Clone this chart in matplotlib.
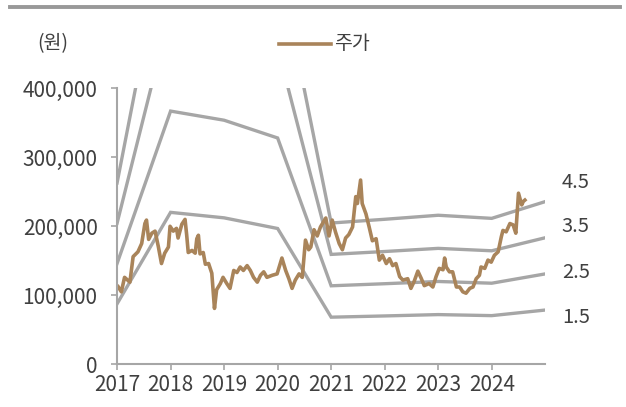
import numpy as np
import matplotlib
matplotlib.use("Agg")
from matplotlib import pyplot as plt

plt.rcParams['font.family'] = ['Noto Sans CJK KR', 'DejaVu Sans']
plt.rcParams['font.weight'] = 'light'

# Band base values (per year) and multiples
band_years = [2017, 2018, 2019, 2020, 2021, 2022, 2023, 2024, 2025]
band_base = [58400, 146800, 141500, 131200, 45500, 46700, 48000, 47000, 52400]
multiples = [1.5, 2.5, 3.5, 4.5]
multiple_labels = ['1.5', '2.5', '3.5', '4.5']
label_y = [67500, 133000, 199000, 263000]

# Stock price
price_dates = [
    2017.02, 2017.08, 2017.14, 2017.24, 2017.30, 2017.39, 2017.46, 2017.52, 2017.55, 2017.59,
    2017.65, 2017.71, 2017.77, 2017.83, 2017.89, 2017.96, 2017.99, 2018.05, 2018.11, 2018.14,
    2018.21, 2018.27, 2018.30, 2018.33, 2018.40, 2018.46, 2018.49, 2018.52, 2018.55, 2018.61,
    2018.65, 2018.71, 2018.77, 2018.82, 2018.86, 2018.93, 2018.98, 2019.05, 2019.11, 2019.18,
    2019.24, 2019.30, 2019.36, 2019.43, 2019.49, 2019.55, 2019.62, 2019.68, 2019.74, 2019.80,
    2019.90, 2019.99, 2020.08, 2020.15, 2020.21, 2020.27, 2020.33, 2020.40, 2020.46, 2020.52,
    2020.58, 2020.62, 2020.68, 2020.74, 2020.80, 2020.90, 2020.96, 2021.02, 2021.08, 2021.15,
    2021.21, 2021.27, 2021.33, 2021.40, 2021.46, 2021.49, 2021.55, 2021.58, 2021.65, 2021.71,
    2021.77, 2021.84, 2021.90, 2021.96, 2022.03, 2022.09, 2022.15, 2022.21, 2022.28, 2022.34,
    2022.43, 2022.49, 2022.55, 2022.62, 2022.68, 2022.74, 2022.83, 2022.90, 2022.96, 2023.02,
    2023.09, 2023.12, 2023.15, 2023.21, 2023.27, 2023.34, 2023.40, 2023.46, 2023.52, 2023.59,
    2023.65, 2023.71, 2023.77, 2023.80, 2023.87, 2023.93, 2023.99, 2024.05, 2024.12, 2024.18,
    2024.21, 2024.27, 2024.34, 2024.40, 2024.45, 2024.50, 2024.56, 2024.59, 2024.62,
]
price = [
    112500, 105000, 126000, 119000, 156000, 163000, 175000, 204000, 209000, 181000,
    190000, 193000, 171000, 146000, 161000, 170000, 200000, 193000, 197000, 183000,
    203000, 210000, 188000, 162000, 165000, 161000, 182000, 187000, 160000, 162000,
    145000, 146000, 132000, 81000, 108000, 117000, 126000, 117000, 110000, 136000,
    133000, 141000, 136000, 143000, 136000, 126000, 119000, 129000, 134000, 126000,
    129000, 131000, 154000, 136000, 124000, 110000, 122000, 131000, 126000, 180000,
    166000, 170000, 195000, 186000, 199000, 212000, 186000, 209000, 192000, 175000,
    166000, 183000, 188000, 199000, 243000, 233000, 267000, 233000, 218000, 199000,
    179000, 182000, 151000, 158000, 146000, 153000, 143000, 146000, 127000, 122000,
    124000, 110000, 120000, 135000, 125000, 114000, 117000, 112000, 127000, 139000,
    137000, 154000, 141000, 134000, 134000, 112000, 112000, 105000, 103000, 110000,
    112000, 124000, 129000, 141000, 139000, 151000, 148000, 158000, 163000, 185000,
    194000, 192000, 204000, 202000, 190000, 248000, 231000, 236000, 238000,
]

gray = '#A6A6A6'
brown = '#A9845A'
text_c = '#404040'

fig = plt.figure(figsize=(6.26, 4.07), dpi=100)
ax = fig.add_axes([0.187, 0.105, 0.684, 0.678])

base = np.array(band_base)
for m in multiples:
    ax.plot(band_years, base * m, color=gray, lw=2.4, solid_joinstyle='miter', zorder=1)
ax.plot(price_dates, price, color=brown, lw=2.6, zorder=2, label='주가')

for lab, yv in zip(multiple_labels, label_y):
    ax.text(2025.31, yv, lab, fontsize=14.5, color=text_c, va='center', ha='left', clip_on=False)

ax.set_xlim(2017, 2025)
ax.set_ylim(0, 400000)
ax.set_xticks(range(2017, 2025))
ax.set_yticks(range(0, 400001, 100000))
ax.yaxis.set_major_formatter(matplotlib.ticker.FuncFormatter(lambda v, p: f'{int(v):,}'))
ax.tick_params(axis='both', colors=gray, labelcolor=text_c, labelsize=15, length=4, width=1.2)
ax.tick_params(axis='x', pad=3)
ax.tick_params(axis='y', pad=10)
for s in ['top', 'right']:
    ax.spines[s].set_visible(False)
for s in ['left', 'bottom']:
    ax.spines[s].set_color(gray)
    ax.spines[s].set_linewidth(1.5)

# header
fig.add_artist(plt.Line2D([10 / 626, 620 / 626], [1 - 6.5 / 407] * 2, color='#999999', lw=2.8))
fig.text(37 / 626, 1 - 44 / 407, '(원)', fontsize=14, color=text_c, va='center', ha='left')
fig.add_artist(plt.Line2D([279 / 626, 331 / 626], [1 - 43.5 / 407] * 2, color=brown, lw=2.6))
fig.text(334 / 626, 1 - 43.5 / 407, '주가', fontsize=14, color=text_c, va='center', ha='left')

fig.savefig('out.png', dpi=100)
